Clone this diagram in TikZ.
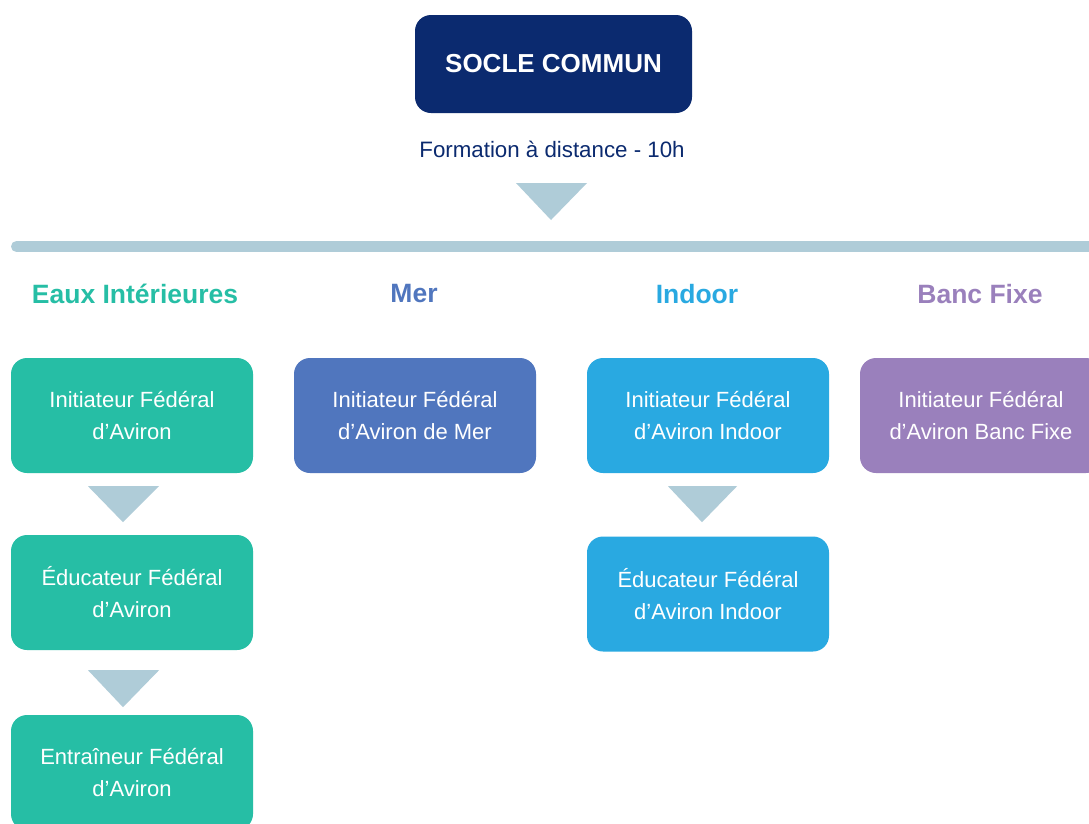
\documentclass[tikz,border=0pt]{standalone}
\usepackage{fontspec}
\setmainfont{Liberation Sans}
\usetikzlibrary{calc}
\definecolor{navy}{HTML}{0B2A6F}
\definecolor{pale}{HTML}{AFCCD8}
\definecolor{teal}{HTML}{26BEA5}
\definecolor{merc}{HTML}{5076BE}
\definecolor{indoorc}{HTML}{29A9E1}
\definecolor{bancc}{HTML}{9A80BC}
\tikzset{
  box/.style={rounded corners=16pt, minimum width=242pt, minimum height=115pt,
    inner sep=0pt, align=center, text=white,
    font=\fontsize{22}{32}\selectfont},
  head/.style={font=\fontsize{26.5}{30}\selectfont\bfseries, inner sep=0pt},
  tri/.style={fill=pale},
}
\begin{document}
\begin{tikzpicture}[x=1pt,y=-1pt]
\useasboundingbox (0,0) rectangle (1089,823);
\clip (0,0) rectangle (1089,823);
\fill[white] (0,0) rectangle (1089,823);
% top
\node[box, fill=navy, minimum width=277pt, minimum height=98pt,
  font=\fontsize{26}{30}\selectfont\bfseries] (socle) at (553.5,64) {SOCLE COMMUN};
\node[text=navy, font=\fontsize{22.3}{26}\selectfont, inner sep=0pt] (form) at (552,149) {Formation à distance - 10h};
\coordinate (bar) at (16.5,246.5);
\coordinate (barend) at (1100,246.5);
\fill[tri] ($(form)+(-36,34)$) -- ($(form)+(35,34)$) -- ($(form)+(-1,71)$) -- cycle;
\draw[pale, line width=11pt, line cap=round] (bar) -- (barend);
% headers
\node[head, text=teal] (h1) at (135,294) {Eaux Intérieures};
\node[head, text=merc] (h2) at (414,294) {Mer};
\node[head, text=indoorc] (h3) at (697,294) {Indoor};
\node[head, text=bancc] (h4) at (980,294) {Banc Fixe};
% boxes
\node[box, fill=teal] (e1) at (132,415.5) {Initiateur Fédéral\\d’Aviron};
\node[box, fill=teal] (e2) at (132,592.5) {Éducateur Fédéral\\d’Aviron};
\node[box, fill=teal] (e3) at (132,772.5) {Entraîneur Fédéral\\d’Aviron};
\node[box, fill=merc] (m1) at (415,415.5) {Initiateur Fédéral\\d’Aviron de Mer};
\node[box, fill=indoorc] (i1) at (708,415.5) {Initiateur Fédéral\\d’Aviron Indoor};
\node[box, fill=indoorc] (i2) at (708,594) {Éducateur Fédéral\\d’Aviron Indoor};
\node[box, fill=bancc] (b1) at (981,415.5) {Initiateur Fédéral\\d’Aviron Banc Fixe};
% triangles
\fill[tri] ($(e1.south)+(-44,13)$) -- ($(e1.south)+(27,13)$) -- ($(e1.south)+(-9,49)$) -- cycle;
\fill[tri] ($(e2.south)+(-44,20)$) -- ($(e2.south)+(27,20)$) -- ($(e2.south)+(-9,57)$) -- cycle;
\fill[tri] ($(i1.south)+(-40,13)$) -- ($(i1.south)+(29,13)$) -- ($(i1.south)+(-6,49)$) -- cycle;
\end{tikzpicture}
\end{document}
